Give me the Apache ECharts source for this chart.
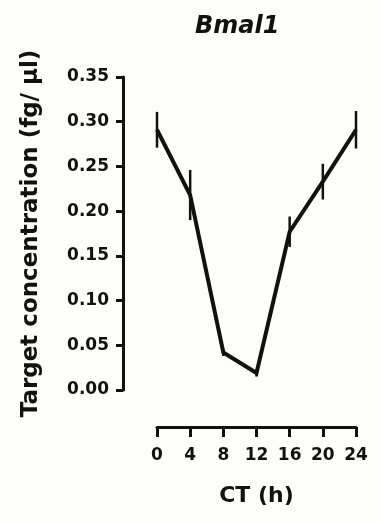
<!DOCTYPE html>
<html>
<head>
<meta charset="utf-8">
<script src="https://cdn.jsdelivr.net/npm/echarts@6/dist/echarts.min.js"></script>
<style>
  html, body { margin: 0; padding: 0; background: #fdfdfa; }
  #chart { width: 381px; height: 522px; }
</style>
</head>
<body>
<div id="chart"></div>
<script>
// time points and Bmal1 target concentration (mean +/- SEM)
const ctHours = [0, 4, 8, 12, 16, 20, 24];
const meanConc = [0.291, 0.218, 0.042, 0.019, 0.177, 0.233, 0.291];
const semConc = [0.020, 0.028, 0.004, 0.004, 0.017, 0.020, 0.021];
const yTicks = ['0.00', '0.05', '0.10', '0.15', '0.20', '0.25', '0.30', '0.35'];

const font = 'DejaVu Sans';
const ink = '#111';

const chart = echarts.init(document.getElementById('chart'));

const lineData = ctHours.map((h, i) => [h, meanConc[i]]);
const errData = ctHours.map((h, i) => [h, meanConc[i] - semConc[i], meanConc[i] + semConc[i]]);

chart.setOption({
  backgroundColor: '#fdfdfa',
  animation: false,
  title: {
    text: 'Bmal1',
    left: 190,
    top: 10,
    textStyle: { fontFamily: font, fontSize: 24, fontWeight: 'bold', fontStyle: 'italic', color: ink }
  },
  grid: { left: 157, right: 25, top: 77, bottom: 132 },
  xAxis: {
    type: 'value',
    min: 0, max: 24, interval: 4,
    offset: 37,
    name: 'CT (h)',
    nameLocation: 'middle',
    nameGap: 58,
    nameTextStyle: { fontFamily: font, fontSize: 22, fontWeight: 'bold', color: ink },
    axisLine: { onZero: false, lineStyle: { color: ink, width: 3 } },
    axisTick: { length: 10, lineStyle: { color: ink, width: 3 } },
    axisLabel: { fontFamily: font, fontSize: 17, fontWeight: 'bold', color: ink, margin: 20 },
    splitLine: { show: false }
  },
  yAxis: {
    type: 'value',
    min: 0, max: 0.35, interval: 0.05,
    offset: 34,
    name: 'Target concentration (fg/ µl)',
    nameLocation: 'middle',
    nameRotate: 90,
    nameGap: 80,
    nameTextStyle: { fontFamily: font, fontSize: 23, fontWeight: 'bold', color: ink },
    axisLine: { show: true, onZero: false, lineStyle: { color: ink, width: 3 } },
    axisTick: { show: true, length: 7, lineStyle: { color: ink, width: 3 } },
    axisLabel: {
      fontFamily: font, fontSize: 17, fontWeight: 'bold', color: ink, margin: 14,
      formatter: (v) => yTicks[Math.round(v / 0.05)]
    },
    splitLine: { show: false }
  },
  series: [
    {
      type: 'custom',
      data: errData,
      z: 3,
      renderItem: (params, api) => {
        const top = api.coord([api.value(0), api.value(2)]);
        const bot = api.coord([api.value(0), api.value(1)]);
        return {
          type: 'line',
          shape: { x1: top[0], y1: top[1], x2: bot[0], y2: bot[1] },
          style: { stroke: ink, lineWidth: 2.5 }
        };
      }
    },
    {
      type: 'line',
      data: lineData,
      symbol: 'none',
      z: 4,
      lineStyle: { color: ink, width: 4, join: 'miter' }
    }
  ]
});
</script>
</body>
</html>
